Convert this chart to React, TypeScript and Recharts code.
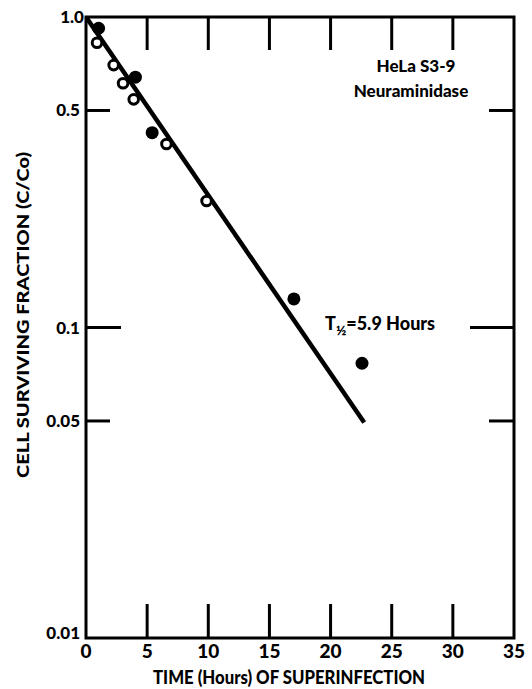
import React from "react";
import {
  ComposedChart,
  XAxis,
  YAxis,
  Scatter,
  Line,
  ReferenceArea,
  Customized,
} from "recharts";

// time (hours) axis
const X_TICKS = [0, 5, 10, 15, 20, 25, 30, 35];

// surviving fraction axis (log)
const Y_TICKS = [1, 0.5, 0.1, 0.05, 0.01];
const Y_TICK_LABELS = ["1.0", "0.5", "0.1", "0.05", "0.01"];

// open circles
const OPEN_X = [0.9, 2.26, 3.03, 3.9, 6.58, 9.86];
const OPEN_Y = [0.826, 0.7, 0.612, 0.543, 0.39, 0.2555];

// filled circles
const FILLED_X = [1.03, 4.04, 5.41, 17.0, 22.57];
const FILLED_Y = [0.92, 0.64, 0.424, 0.1236, 0.0767];

// fitted line, T1/2 = 5.9 h
const FIT_X = [0, 22.75];
const FIT_Y = [1.0, 0.0494];

const FONT = "Lato, 'DejaVu Sans', sans-serif";
const W = 532;
const H = 689;
const TOP = 17;
const BOTTOM = 638;
const LEFT = 86;
const RIGHT = 514;

const openData = OPEN_X.map((x, i) => ({ x, y: OPEN_Y[i] }));
const filledData = FILLED_X.map((x, i) => ({ x, y: FILLED_Y[i] }));
const fitData = FIT_X.map((x, i) => ({ x, y: FIT_Y[i] }));

const XTick = (props: any) => {
  const { x, payload } = props;
  const v = payload.value;
  const inner = v !== 0 && v !== 35;
  return (
    <g>
      {inner && (
        <>
          <line x1={x} x2={x} y1={BOTTOM} y2={BOTTOM - 34} stroke="#000" strokeWidth={3} />
          <line x1={x} x2={x} y1={TOP} y2={TOP + 33} stroke="#000" strokeWidth={3} />
        </>
      )}
      <text
        x={x}
        y={658}
        textAnchor="middle"
        fontFamily={FONT}
        fontWeight={900}
        fontSize={19}
        fill="#000"
      >
        {v}
      </text>
    </g>
  );
};

const YTick = (props: any) => {
  const { y, payload } = props;
  const v = payload.value;
  const idx = Y_TICKS.indexOf(v);
  const major = v === 0.1;
  const inner = v !== 1 && v !== 0.01;
  const ly = v === 0.01 ? y - 5 : y;
  return (
    <g>
      {inner && (
        <>
          <line x1={LEFT} x2={LEFT + (major ? 35 : 24)} y1={y} y2={y} stroke="#000" strokeWidth={3} />
          <line x1={RIGHT} x2={RIGHT - (major ? 44 : 25)} y1={y} y2={y} stroke="#000" strokeWidth={3} />
        </>
      )}
      <text
        x={v === 1 ? 84 : 80}
        y={ly}
        dy={6}
        textAnchor="end"
        fontFamily={FONT}
        fontWeight={900}
        fontSize={17}
        fill="#000"
      >
        {Y_TICK_LABELS[idx]}
      </text>
    </g>
  );
};

const OpenDot = (props: any) => (
  <circle cx={props.cx} cy={props.cy} r={4.8} fill="#fff" stroke="#000" strokeWidth={3} />
);

const FilledDot = (props: any) => (
  <circle cx={props.cx} cy={props.cy} r={6.5} fill="#000" />
);

const Annotations = () => (
  <g fontFamily={FONT} fontWeight={900} fill="#000">
    <text x={416} y={72} textAnchor="middle" fontSize={17}>
      HeLa S3-9
    </text>
    <text x={411} y={97} textAnchor="middle" fontSize={17}>
      Neuraminidase
    </text>
    <text x={325} y={330} fontSize={18}>
      T
      <tspan fontSize={14} dy={5}>
        ½
      </tspan>
      <tspan dy={-5}>=5.9 Hours</tspan>
    </text>
    <text
      x={289}
      y={684}
      textAnchor="middle"
      fontSize={18}
      textLength={272}
      lengthAdjust="spacingAndGlyphs"
    >
      TIME (Hours) OF SUPERINFECTION
    </text>
    <text
      transform="translate(29, 315) rotate(-90)"
      textAnchor="middle"
      fontSize={16}
      textLength={326}
      lengthAdjust="spacingAndGlyphs"
    >
      CELL SURVIVING FRACTION (C/Co)
    </text>
  </g>
);

export default function App() {
  return (
    <div style={{ position: "absolute", left: 0, top: 0, width: W, height: H, background: "#fff" }}>
      <ComposedChart
        width={W}
        height={H}
        margin={{ top: TOP, right: W - RIGHT, bottom: 0, left: 0 }}
      >
        <XAxis
          dataKey="x"
          type="number"
          domain={[0, 35]}
          ticks={X_TICKS}
          interval={0}
          height={H - BOTTOM}
          axisLine={false}
          tickLine={false}
          tick={XTick}
          allowDataOverflow
        />
        <YAxis
          dataKey="y"
          type="number"
          scale="log"
          domain={[0.01, 1]}
          ticks={Y_TICKS}
          interval={0}
          width={LEFT}
          axisLine={false}
          tickLine={false}
          tick={YTick}
          allowDataOverflow
        />
        <ReferenceArea
          x1={0}
          x2={35}
          y1={0.01}
          y2={1}
          fill="none"
          fillOpacity={0}
          stroke="#000"
          strokeWidth={3}
          strokeOpacity={1}
        />
        <Line
          data={fitData}
          dataKey="y"
          type="linear"
          stroke="#000"
          strokeWidth={4.5}
          dot={false}
          activeDot={false}
          isAnimationActive={false}
        />
        <Scatter data={openData} dataKey="y" shape={OpenDot} isAnimationActive={false} />
        <Scatter data={filledData} dataKey="y" shape={FilledDot} isAnimationActive={false} />
        <Customized component={Annotations} />
      </ComposedChart>
    </div>
  );
}
